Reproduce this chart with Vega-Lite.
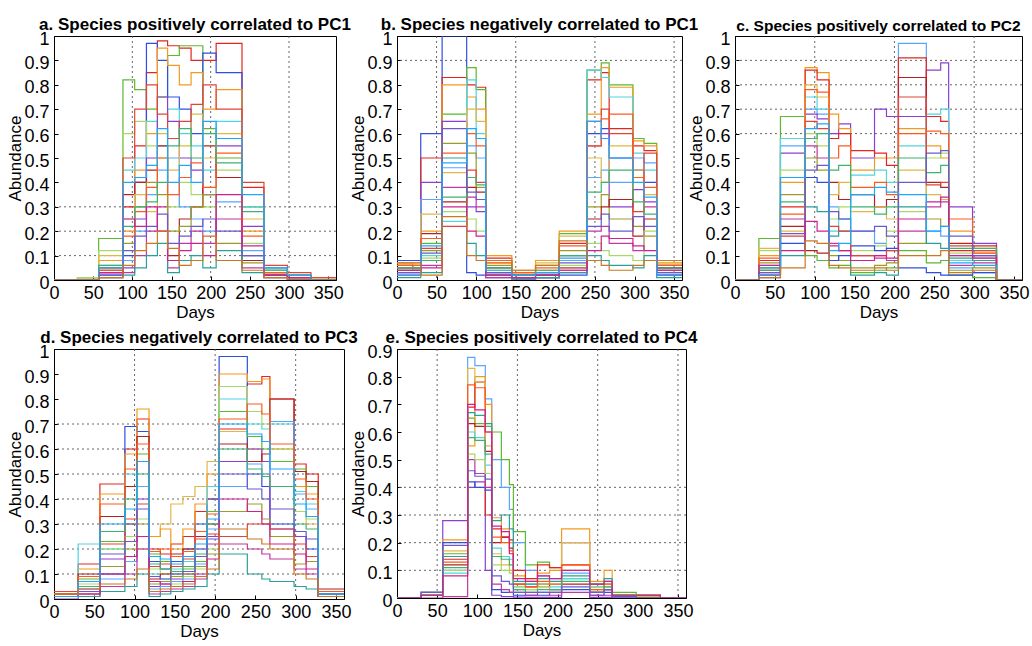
{
"$schema": "https://vega.github.io/schema/vega-lite/v6.json",
"background": "white",
"padding": {"left": 6, "top": 15, "right": 3, "bottom": 3},
"config": {
 "font": "Liberation Sans",
 "view": {"stroke": "black", "strokeWidth": 1},
 "axis": {"grid": false, "labelFontSize": 18, "labelColor": "black", "titleFontSize": 17, "titleFontWeight": "normal", "titleColor": "black", "domainColor": "black", "tickColor": "black", "tickSize": -4, "labelOverlap": false, "labelFlush": false},
 "axisX": {"labelPadding": 8, "titlePadding": 2},
 "axisY": {"labelPadding": 9, "titlePadding": -1, "labelOffset": 3},
 "title": {"fontSize": 17, "fontWeight": "bold", "color": "black", "offset": -4, "frame": "group"},
 "line": {"strokeWidth": 1.2}
},
"datasets": {
"a": [
{"s":1,"d":0,"v":0},{"s":1,"d":30,"v":0.01},{"s":1,"d":57,"v":0.05},{"s":1,"d":88,"v":0.3},{"s":1,"d":103,"v":0.55},{"s":1,"d":118,"v":0.85},{"s":1,"d":132,"v":0.98},{"s":1,"d":145,"v":0.96},{"s":1,"d":160,"v":0.95},{"s":1,"d":175,"v":0.9},{"s":1,"d":190,"v":0.9},{"s":1,"d":207,"v":0.97},{"s":1,"d":240,"v":0.38},{"s":1,"d":268,"v":0.05},{"s":1,"d":298,"v":0.02},{"s":1,"d":328,"v":0},{"s":1,"d":360,"v":0},
{"s":2,"d":0,"v":0},{"s":2,"d":30,"v":0.01},{"s":2,"d":57,"v":0.17},{"s":2,"d":88,"v":0.82},{"s":2,"d":103,"v":0.78},{"s":2,"d":118,"v":0.7},{"s":2,"d":132,"v":0.75},{"s":2,"d":145,"v":0.92},{"s":2,"d":160,"v":0.96},{"s":2,"d":175,"v":0.96},{"s":2,"d":190,"v":0.62},{"s":2,"d":207,"v":0.5},{"s":2,"d":240,"v":0.3},{"s":2,"d":268,"v":0.04},{"s":2,"d":298,"v":0.02},{"s":2,"d":328,"v":0.01},{"s":2,"d":360,"v":0.01},
{"s":3,"d":0,"v":0},{"s":3,"d":30,"v":0},{"s":3,"d":57,"v":0.03},{"s":3,"d":88,"v":0.1},{"s":3,"d":103,"v":0.4},{"s":3,"d":118,"v":0.97},{"s":3,"d":132,"v":0.9},{"s":3,"d":145,"v":0.75},{"s":3,"d":160,"v":0.7},{"s":3,"d":175,"v":0.6},{"s":3,"d":190,"v":0.93},{"s":3,"d":207,"v":0.85},{"s":3,"d":240,"v":0.1},{"s":3,"d":268,"v":0.02},{"s":3,"d":298,"v":0.01},{"s":3,"d":328,"v":0},{"s":3,"d":360,"v":0},
{"s":4,"d":0,"v":0},{"s":4,"d":30,"v":0},{"s":4,"d":57,"v":0.08},{"s":4,"d":88,"v":0.2},{"s":4,"d":103,"v":0.45},{"s":4,"d":118,"v":0.6},{"s":4,"d":132,"v":0.95},{"s":4,"d":145,"v":0.88},{"s":4,"d":160,"v":0.8},{"s":4,"d":175,"v":0.85},{"s":4,"d":190,"v":0.7},{"s":4,"d":207,"v":0.78},{"s":4,"d":240,"v":0.2},{"s":4,"d":268,"v":0.03},{"s":4,"d":298,"v":0.01},{"s":4,"d":328,"v":0},{"s":4,"d":360,"v":0},
{"s":5,"d":0,"v":0},{"s":5,"d":30,"v":0},{"s":5,"d":57,"v":0.06},{"s":5,"d":88,"v":0.45},{"s":5,"d":103,"v":0.5},{"s":5,"d":118,"v":0.65},{"s":5,"d":132,"v":0.55},{"s":5,"d":145,"v":0.7},{"s":5,"d":160,"v":0.6},{"s":5,"d":175,"v":0.55},{"s":5,"d":190,"v":0.45},{"s":5,"d":207,"v":0.65},{"s":5,"d":240,"v":0.3},{"s":5,"d":268,"v":0.05},{"s":5,"d":298,"v":0.01},{"s":5,"d":328,"v":0},{"s":5,"d":360,"v":0},
{"s":6,"d":0,"v":0},{"s":6,"d":30,"v":0},{"s":6,"d":57,"v":0.02},{"s":6,"d":88,"v":0.05},{"s":6,"d":103,"v":0.25},{"s":6,"d":118,"v":0.5},{"s":6,"d":132,"v":0.75},{"s":6,"d":145,"v":0.65},{"s":6,"d":160,"v":0.5},{"s":6,"d":175,"v":0.45},{"s":6,"d":190,"v":0.35},{"s":6,"d":207,"v":0.55},{"s":6,"d":240,"v":0.22},{"s":6,"d":268,"v":0.03},{"s":6,"d":298,"v":0.01},{"s":6,"d":328,"v":0},{"s":6,"d":360,"v":0},
{"s":7,"d":0,"v":0},{"s":7,"d":30,"v":0.01},{"s":7,"d":57,"v":0.12},{"s":7,"d":88,"v":0.6},{"s":7,"d":103,"v":0.65},{"s":7,"d":118,"v":0.55},{"s":7,"d":132,"v":0.5},{"s":7,"d":145,"v":0.3},{"s":7,"d":160,"v":0.4},{"s":7,"d":175,"v":0.35},{"s":7,"d":190,"v":0.3},{"s":7,"d":207,"v":0.45},{"s":7,"d":240,"v":0.15},{"s":7,"d":268,"v":0.03},{"s":7,"d":298,"v":0.02},{"s":7,"d":328,"v":0.01},{"s":7,"d":360,"v":0.01},
{"s":8,"d":0,"v":0},{"s":8,"d":30,"v":0},{"s":8,"d":57,"v":0.04},{"s":8,"d":88,"v":0.35},{"s":8,"d":103,"v":0.4},{"s":8,"d":118,"v":0.45},{"s":8,"d":132,"v":0.55},{"s":8,"d":145,"v":0.1},{"s":8,"d":160,"v":0.25},{"s":8,"d":175,"v":0.3},{"s":8,"d":190,"v":0.55},{"s":8,"d":207,"v":0.42},{"s":8,"d":240,"v":0.08},{"s":8,"d":268,"v":0.02},{"s":8,"d":298,"v":0},{"s":8,"d":328,"v":0},{"s":8,"d":360,"v":0},
{"s":9,"d":0,"v":0},{"s":9,"d":30,"v":0},{"s":9,"d":57,"v":0.02},{"s":9,"d":88,"v":0.08},{"s":9,"d":103,"v":0.2},{"s":9,"d":118,"v":0.35},{"s":9,"d":132,"v":0.45},{"s":9,"d":145,"v":0.5},{"s":9,"d":160,"v":0.3},{"s":9,"d":175,"v":0.25},{"s":9,"d":190,"v":0.2},{"s":9,"d":207,"v":0.32},{"s":9,"d":240,"v":0.12},{"s":9,"d":268,"v":0.04},{"s":9,"d":298,"v":0.01},{"s":9,"d":328,"v":0},{"s":9,"d":360,"v":0},
{"s":10,"d":0,"v":0},{"s":10,"d":30,"v":0},{"s":10,"d":57,"v":0.01},{"s":10,"d":88,"v":0.03},{"s":10,"d":103,"v":0.1},{"s":10,"d":118,"v":0.2},{"s":10,"d":132,"v":0.3},{"s":10,"d":145,"v":0.05},{"s":10,"d":160,"v":0.15},{"s":10,"d":175,"v":0.2},{"s":10,"d":190,"v":0.15},{"s":10,"d":207,"v":0.25},{"s":10,"d":240,"v":0.05},{"s":10,"d":268,"v":0.01},{"s":10,"d":298,"v":0},{"s":10,"d":328,"v":0},{"s":10,"d":360,"v":0},
{"s":11,"d":0,"v":0},{"s":11,"d":30,"v":0},{"s":11,"d":57,"v":0.05},{"s":11,"d":88,"v":0.15},{"s":11,"d":103,"v":0.3},{"s":11,"d":118,"v":0.4},{"s":11,"d":132,"v":0.35},{"s":11,"d":145,"v":0.2},{"s":11,"d":160,"v":0.22},{"s":11,"d":175,"v":0.3},{"s":11,"d":190,"v":0.35},{"s":11,"d":207,"v":0.15},{"s":11,"d":240,"v":0.07},{"s":11,"d":268,"v":0.02},{"s":11,"d":298,"v":0.01},{"s":11,"d":328,"v":0},{"s":11,"d":360,"v":0},
{"s":12,"d":0,"v":0},{"s":12,"d":30,"v":0},{"s":12,"d":57,"v":0.1},{"s":12,"d":88,"v":0.25},{"s":12,"d":103,"v":0.35},{"s":12,"d":118,"v":0.28},{"s":12,"d":132,"v":0.6},{"s":12,"d":145,"v":0.45},{"s":12,"d":160,"v":0.55},{"s":12,"d":175,"v":0.68},{"s":12,"d":190,"v":0.5},{"s":12,"d":207,"v":0.6},{"s":12,"d":240,"v":0.25},{"s":12,"d":268,"v":0.04},{"s":12,"d":298,"v":0.01},{"s":12,"d":328,"v":0},{"s":12,"d":360,"v":0},
{"s":13,"d":0,"v":0},{"s":13,"d":30,"v":0},{"s":13,"d":57,"v":0.01},{"s":13,"d":88,"v":0.02},{"s":13,"d":103,"v":0.05},{"s":13,"d":118,"v":0.1},{"s":13,"d":132,"v":0.15},{"s":13,"d":145,"v":0.03},{"s":13,"d":160,"v":0.08},{"s":13,"d":175,"v":0.1},{"s":13,"d":190,"v":0.05},{"s":13,"d":207,"v":0.12},{"s":13,"d":240,"v":0.03},{"s":13,"d":268,"v":0.01},{"s":13,"d":298,"v":0},{"s":13,"d":328,"v":0},{"s":13,"d":360,"v":0},
{"s":14,"d":0,"v":0},{"s":14,"d":30,"v":0},{"s":14,"d":57,"v":0.03},{"s":14,"d":88,"v":0.5},{"s":14,"d":103,"v":0.7},{"s":14,"d":118,"v":0.8},{"s":14,"d":132,"v":0.68},{"s":14,"d":145,"v":0.58},{"s":14,"d":160,"v":0.65},{"s":14,"d":175,"v":0.72},{"s":14,"d":190,"v":0.8},{"s":14,"d":207,"v":0.7},{"s":14,"d":240,"v":0.4},{"s":14,"d":268,"v":0.06},{"s":14,"d":298,"v":0.03},{"s":14,"d":328,"v":0.01},{"s":14,"d":360,"v":0.01},
{"s":15,"d":0,"v":0},{"s":15,"d":30,"v":0},{"s":15,"d":57,"v":0.04},{"s":15,"d":88,"v":0.18},{"s":15,"d":103,"v":0.28},{"s":15,"d":118,"v":0.38},{"s":15,"d":132,"v":0.5},{"s":15,"d":145,"v":0.35},{"s":15,"d":160,"v":0.42},{"s":15,"d":175,"v":0.48},{"s":15,"d":190,"v":0.38},{"s":15,"d":207,"v":0.52},{"s":15,"d":240,"v":0.18},{"s":15,"d":268,"v":0.03},{"s":15,"d":298,"v":0.01},{"s":15,"d":328,"v":0},{"s":15,"d":360,"v":0},
{"s":16,"d":0,"v":0},{"s":16,"d":30,"v":0},{"s":16,"d":57,"v":0.06},{"s":16,"d":88,"v":0.22},{"s":16,"d":103,"v":0.3},{"s":16,"d":118,"v":0.32},{"s":16,"d":132,"v":0.4},{"s":16,"d":145,"v":0.55},{"s":16,"d":160,"v":0.62},{"s":16,"d":175,"v":0.5},{"s":16,"d":190,"v":0.6},{"s":16,"d":207,"v":0.48},{"s":16,"d":240,"v":0.28},{"s":16,"d":268,"v":0.04},{"s":16,"d":298,"v":0.02},{"s":16,"d":328,"v":0},{"s":16,"d":360,"v":0},
{"s":17,"d":0,"v":0},{"s":17,"d":30,"v":0},{"s":17,"d":57,"v":0.02},{"s":17,"d":88,"v":0.12},{"s":17,"d":103,"v":0.18},{"s":17,"d":118,"v":0.22},{"s":17,"d":132,"v":0.27},{"s":17,"d":145,"v":0.15},{"s":17,"d":160,"v":0.18},{"s":17,"d":175,"v":0.22},{"s":17,"d":190,"v":0.25},{"s":17,"d":207,"v":0.2},{"s":17,"d":240,"v":0.1},{"s":17,"d":268,"v":0.02},{"s":17,"d":298,"v":0},{"s":17,"d":328,"v":0},{"s":17,"d":360,"v":0},
{"s":18,"d":0,"v":0},{"s":18,"d":30,"v":0},{"s":18,"d":57,"v":0.03},{"s":18,"d":88,"v":0.25},{"s":18,"d":103,"v":0.22},{"s":18,"d":118,"v":0.3},{"s":18,"d":132,"v":0.2},{"s":18,"d":145,"v":0.08},{"s":18,"d":160,"v":0.12},{"s":18,"d":175,"v":0.15},{"s":18,"d":190,"v":0.1},{"s":18,"d":207,"v":0.35},{"s":18,"d":240,"v":0.14},{"s":18,"d":268,"v":0.02},{"s":18,"d":298,"v":0.01},{"s":18,"d":328,"v":0},{"s":18,"d":360,"v":0},
{"s":19,"d":0,"v":0},{"s":19,"d":30,"v":0},{"s":19,"d":57,"v":0.05},{"s":19,"d":88,"v":0.4},{"s":19,"d":103,"v":0.42},{"s":19,"d":118,"v":0.47},{"s":19,"d":132,"v":0.62},{"s":19,"d":145,"v":0.4},{"s":19,"d":160,"v":0.47},{"s":19,"d":175,"v":0.4},{"s":19,"d":190,"v":0.65},{"s":19,"d":207,"v":0.58},{"s":19,"d":240,"v":0.35},{"s":19,"d":268,"v":0.05},{"s":19,"d":298,"v":0.02},{"s":19,"d":328,"v":0},{"s":19,"d":360,"v":0},
{"s":20,"d":0,"v":0},{"s":20,"d":30,"v":0},{"s":20,"d":57,"v":0.01},{"s":20,"d":88,"v":0.06},{"s":20,"d":103,"v":0.12},{"s":20,"d":118,"v":0.15},{"s":20,"d":132,"v":0.2},{"s":20,"d":145,"v":0.13},{"s":20,"d":160,"v":0.06},{"s":20,"d":175,"v":0.08},{"s":20,"d":190,"v":0.18},{"s":20,"d":207,"v":0.08},{"s":20,"d":240,"v":0.04},{"s":20,"d":268,"v":0.01},{"s":20,"d":298,"v":0},{"s":20,"d":328,"v":0},{"s":20,"d":360,"v":0}
],
"b": [
{"s":3,"d":0,"v":0.08},{"s":3,"d":20,"v":0.08},{"s":3,"d":30,"v":0.6},{"s":3,"d":57,"v":1.0},{"s":3,"d":88,"v":0.03},{"s":3,"d":100,"v":0.02},{"s":3,"d":112,"v":0.01},{"s":3,"d":145,"v":0.005},{"s":3,"d":175,"v":0.01},{"s":3,"d":205,"v":0.02},{"s":3,"d":240,"v":0.6},{"s":3,"d":258,"v":0.62},{"s":3,"d":268,"v":0.5},{"s":3,"d":298,"v":0.45},{"s":3,"d":312,"v":0.4},{"s":3,"d":328,"v":0.05},{"s":3,"d":360,"v":0.05},
{"s":1,"d":0,"v":0.06},{"s":1,"d":20,"v":0.05},{"s":1,"d":30,"v":0.5},{"s":1,"d":57,"v":0.83},{"s":1,"d":88,"v":0.8},{"s":1,"d":100,"v":0.79},{"s":1,"d":112,"v":0.09},{"s":1,"d":145,"v":0.03},{"s":1,"d":175,"v":0.03},{"s":1,"d":205,"v":0.15},{"s":1,"d":240,"v":0.82},{"s":1,"d":258,"v":0.85},{"s":1,"d":268,"v":0.62},{"s":1,"d":298,"v":0.55},{"s":1,"d":312,"v":0.53},{"s":1,"d":328,"v":0.06},{"s":1,"d":360,"v":0.06},
{"s":2,"d":0,"v":0.05},{"s":2,"d":20,"v":0.05},{"s":2,"d":30,"v":0.15},{"s":2,"d":57,"v":0.68},{"s":2,"d":88,"v":0.87},{"s":2,"d":100,"v":0.78},{"s":2,"d":112,"v":0.08},{"s":2,"d":145,"v":0.02},{"s":2,"d":175,"v":0.06},{"s":2,"d":205,"v":0.19},{"s":2,"d":240,"v":0.86},{"s":2,"d":258,"v":0.89},{"s":2,"d":268,"v":0.8},{"s":2,"d":298,"v":0.58},{"s":2,"d":312,"v":0.56},{"s":2,"d":328,"v":0.08},{"s":2,"d":360,"v":0.08},
{"s":4,"d":0,"v":0.07},{"s":4,"d":20,"v":0.06},{"s":4,"d":30,"v":0.2},{"s":4,"d":57,"v":0.8},{"s":4,"d":88,"v":0.75},{"s":4,"d":100,"v":0.7},{"s":4,"d":112,"v":0.1},{"s":4,"d":145,"v":0.04},{"s":4,"d":175,"v":0.08},{"s":4,"d":205,"v":0.2},{"s":4,"d":240,"v":0.68},{"s":4,"d":258,"v":0.87},{"s":4,"d":268,"v":0.79},{"s":4,"d":298,"v":0.57},{"s":4,"d":312,"v":0.55},{"s":4,"d":328,"v":0.07},{"s":4,"d":360,"v":0.07},
{"s":5,"d":0,"v":0.04},{"s":5,"d":20,"v":0.04},{"s":5,"d":30,"v":0.1},{"s":5,"d":57,"v":0.24},{"s":5,"d":88,"v":0.82},{"s":5,"d":100,"v":0.6},{"s":5,"d":112,"v":0.02},{"s":5,"d":145,"v":0.01},{"s":5,"d":175,"v":0.02},{"s":5,"d":205,"v":0.05},{"s":5,"d":240,"v":0.86},{"s":5,"d":258,"v":0.83},{"s":5,"d":268,"v":0.75},{"s":5,"d":298,"v":0.52},{"s":5,"d":312,"v":0.45},{"s":5,"d":328,"v":0.03},{"s":5,"d":360,"v":0.03},
{"s":6,"d":0,"v":0.03},{"s":6,"d":20,"v":0.03},{"s":6,"d":30,"v":0.4},{"s":6,"d":57,"v":0.65},{"s":6,"d":88,"v":0.3},{"s":6,"d":100,"v":0.28},{"s":6,"d":112,"v":0.02},{"s":6,"d":145,"v":0.01},{"s":6,"d":175,"v":0.01},{"s":6,"d":205,"v":0.03},{"s":6,"d":240,"v":0.55},{"s":6,"d":258,"v":0.6},{"s":6,"d":268,"v":0.3},{"s":6,"d":298,"v":0.37},{"s":6,"d":312,"v":0.32},{"s":6,"d":328,"v":0.02},{"s":6,"d":360,"v":0.02},
{"s":9,"d":0,"v":0.05},{"s":9,"d":20,"v":0.04},{"s":9,"d":30,"v":0.33},{"s":9,"d":57,"v":0.46},{"s":9,"d":88,"v":0.55},{"s":9,"d":100,"v":0.5},{"s":9,"d":112,"v":0.03},{"s":9,"d":145,"v":0.02},{"s":9,"d":175,"v":0.03},{"s":9,"d":205,"v":0.08},{"s":9,"d":240,"v":0.42},{"s":9,"d":258,"v":0.45},{"s":9,"d":268,"v":0.4},{"s":9,"d":298,"v":0.5},{"s":9,"d":312,"v":0.48},{"s":9,"d":328,"v":0.04},{"s":9,"d":360,"v":0.04},
{"s":11,"d":0,"v":0.06},{"s":11,"d":20,"v":0.06},{"s":11,"d":30,"v":0.12},{"s":11,"d":57,"v":0.56},{"s":11,"d":88,"v":0.52},{"s":11,"d":100,"v":0.38},{"s":11,"d":112,"v":0.06},{"s":11,"d":145,"v":0.02},{"s":11,"d":175,"v":0.04},{"s":11,"d":205,"v":0.12},{"s":11,"d":240,"v":0.3},{"s":11,"d":258,"v":0.35},{"s":11,"d":268,"v":0.25},{"s":11,"d":298,"v":0.22},{"s":11,"d":312,"v":0.18},{"s":11,"d":328,"v":0.06},{"s":11,"d":360,"v":0.06},
{"s":8,"d":0,"v":0.04},{"s":8,"d":20,"v":0.04},{"s":8,"d":30,"v":0.19},{"s":8,"d":57,"v":0.32},{"s":8,"d":88,"v":0.38},{"s":8,"d":100,"v":0.36},{"s":8,"d":112,"v":0.05},{"s":8,"d":145,"v":0.02},{"s":8,"d":175,"v":0.02},{"s":8,"d":205,"v":0.1},{"s":8,"d":240,"v":0.25},{"s":8,"d":258,"v":0.3},{"s":8,"d":268,"v":0.33},{"s":8,"d":298,"v":0.18},{"s":8,"d":312,"v":0.25},{"s":8,"d":328,"v":0.05},{"s":8,"d":360,"v":0.05},
{"s":12,"d":0,"v":0.07},{"s":12,"d":20,"v":0.07},{"s":12,"d":30,"v":0.27},{"s":12,"d":57,"v":0.44},{"s":12,"d":88,"v":0.7},{"s":12,"d":100,"v":0.65},{"s":12,"d":112,"v":0.07},{"s":12,"d":145,"v":0.03},{"s":12,"d":175,"v":0.07},{"s":12,"d":205,"v":0.18},{"s":12,"d":240,"v":0.5},{"s":12,"d":258,"v":0.4},{"s":12,"d":268,"v":0.55},{"s":12,"d":298,"v":0.45},{"s":12,"d":312,"v":0.35},{"s":12,"d":328,"v":0.07},{"s":12,"d":360,"v":0.07},
{"s":10,"d":0,"v":0.02},{"s":10,"d":20,"v":0.02},{"s":10,"d":30,"v":0.06},{"s":10,"d":57,"v":0.38},{"s":10,"d":88,"v":0.34},{"s":10,"d":100,"v":0.3},{"s":10,"d":112,"v":0.01},{"s":10,"d":145,"v":0.005},{"s":10,"d":175,"v":0.01},{"s":10,"d":205,"v":0.04},{"s":10,"d":240,"v":0.2},{"s":10,"d":258,"v":0.22},{"s":10,"d":268,"v":0.15},{"s":10,"d":298,"v":0.12},{"s":10,"d":312,"v":0.3},{"s":10,"d":328,"v":0.02},{"s":10,"d":360,"v":0.02},
{"s":7,"d":0,"v":0.03},{"s":7,"d":20,"v":0.03},{"s":7,"d":30,"v":0.09},{"s":7,"d":57,"v":0.28},{"s":7,"d":88,"v":0.25},{"s":7,"d":100,"v":0.2},{"s":7,"d":112,"v":0.04},{"s":7,"d":145,"v":0.01},{"s":7,"d":175,"v":0.02},{"s":7,"d":205,"v":0.06},{"s":7,"d":240,"v":0.15},{"s":7,"d":258,"v":0.12},{"s":7,"d":268,"v":0.1},{"s":7,"d":298,"v":0.08},{"s":7,"d":312,"v":0.2},{"s":7,"d":328,"v":0.03},{"s":7,"d":360,"v":0.03},
{"s":13,"d":0,"v":0.01},{"s":13,"d":20,"v":0.01},{"s":13,"d":30,"v":0.03},{"s":13,"d":57,"v":0.5},{"s":13,"d":88,"v":0.15},{"s":13,"d":100,"v":0.1},{"s":13,"d":112,"v":0.02},{"s":13,"d":145,"v":0.005},{"s":13,"d":175,"v":0.01},{"s":13,"d":205,"v":0.03},{"s":13,"d":240,"v":0.1},{"s":13,"d":258,"v":0.08},{"s":13,"d":268,"v":0.06},{"s":13,"d":298,"v":0.05},{"s":13,"d":312,"v":0.1},{"s":13,"d":328,"v":0.01},{"s":13,"d":360,"v":0.01},
{"s":14,"d":0,"v":0.05},{"s":14,"d":20,"v":0.05},{"s":14,"d":30,"v":0.13},{"s":14,"d":57,"v":0.22},{"s":14,"d":88,"v":0.45},{"s":14,"d":100,"v":0.4},{"s":14,"d":112,"v":0.03},{"s":14,"d":145,"v":0.02},{"s":14,"d":175,"v":0.02},{"s":14,"d":205,"v":0.05},{"s":14,"d":240,"v":0.65},{"s":14,"d":258,"v":0.7},{"s":14,"d":268,"v":0.6},{"s":14,"d":298,"v":0.28},{"s":14,"d":312,"v":0.52},{"s":14,"d":328,"v":0.04},{"s":14,"d":360,"v":0.04},
{"s":15,"d":0,"v":0.06},{"s":15,"d":20,"v":0.06},{"s":15,"d":30,"v":0.17},{"s":15,"d":57,"v":0.52},{"s":15,"d":88,"v":0.6},{"s":15,"d":100,"v":0.55},{"s":15,"d":112,"v":0.07},{"s":15,"d":145,"v":0.03},{"s":15,"d":175,"v":0.05},{"s":15,"d":205,"v":0.14},{"s":15,"d":240,"v":0.55},{"s":15,"d":258,"v":0.66},{"s":15,"d":268,"v":0.68},{"s":15,"d":298,"v":0.42},{"s":15,"d":312,"v":0.38},{"s":15,"d":328,"v":0.06},{"s":15,"d":360,"v":0.06},
{"s":16,"d":0,"v":0.05},{"s":16,"d":20,"v":0.05},{"s":16,"d":30,"v":0.08},{"s":16,"d":57,"v":0.34},{"s":16,"d":88,"v":0.42},{"s":16,"d":100,"v":0.39},{"s":16,"d":112,"v":0.05},{"s":16,"d":145,"v":0.02},{"s":16,"d":175,"v":0.04},{"s":16,"d":205,"v":0.1},{"s":16,"d":240,"v":0.36},{"s":16,"d":258,"v":0.4},{"s":16,"d":268,"v":0.45},{"s":16,"d":298,"v":0.32},{"s":16,"d":312,"v":0.27},{"s":16,"d":328,"v":0.05},{"s":16,"d":360,"v":0.05},
{"s":17,"d":0,"v":0.03},{"s":17,"d":20,"v":0.03},{"s":17,"d":30,"v":0.11},{"s":17,"d":57,"v":0.62},{"s":17,"d":88,"v":0.36},{"s":17,"d":100,"v":0.33},{"s":17,"d":112,"v":0.03},{"s":17,"d":145,"v":0.01},{"s":17,"d":175,"v":0.02},{"s":17,"d":205,"v":0.07},{"s":17,"d":240,"v":0.22},{"s":17,"d":258,"v":0.27},{"s":17,"d":268,"v":0.2},{"s":17,"d":298,"v":0.26},{"s":17,"d":312,"v":0.22},{"s":17,"d":328,"v":0.03},{"s":17,"d":360,"v":0.03},
{"s":18,"d":0,"v":0.04},{"s":18,"d":20,"v":0.04},{"s":18,"d":30,"v":0.05},{"s":18,"d":57,"v":0.3},{"s":18,"d":88,"v":0.2},{"s":18,"d":100,"v":0.18},{"s":18,"d":112,"v":0.02},{"s":18,"d":145,"v":0.01},{"s":18,"d":175,"v":0.02},{"s":18,"d":205,"v":0.04},{"s":18,"d":240,"v":0.12},{"s":18,"d":258,"v":0.18},{"s":18,"d":268,"v":0.17},{"s":18,"d":298,"v":0.14},{"s":18,"d":312,"v":0.12},{"s":18,"d":328,"v":0.04},{"s":18,"d":360,"v":0.04},
{"s":19,"d":0,"v":0.02},{"s":19,"d":20,"v":0.02},{"s":19,"d":30,"v":0.14},{"s":19,"d":57,"v":0.48},{"s":19,"d":88,"v":0.62},{"s":19,"d":100,"v":0.58},{"s":19,"d":112,"v":0.04},{"s":19,"d":145,"v":0.02},{"s":19,"d":175,"v":0.03},{"s":19,"d":205,"v":0.09},{"s":19,"d":240,"v":0.65},{"s":19,"d":258,"v":0.58},{"s":19,"d":268,"v":0.5},{"s":19,"d":298,"v":0.4},{"s":19,"d":312,"v":0.34},{"s":19,"d":328,"v":0.02},{"s":19,"d":360,"v":0.02},
{"s":20,"d":0,"v":0.07},{"s":20,"d":20,"v":0.07},{"s":20,"d":30,"v":0.02},{"s":20,"d":57,"v":0.26},{"s":20,"d":88,"v":0.1},{"s":20,"d":100,"v":0.08},{"s":20,"d":112,"v":0.08},{"s":20,"d":145,"v":0.04},{"s":20,"d":175,"v":0.06},{"s":20,"d":205,"v":0.16},{"s":20,"d":240,"v":0.08},{"s":20,"d":258,"v":0.06},{"s":20,"d":268,"v":0.04},{"s":20,"d":298,"v":0.06},{"s":20,"d":312,"v":0.08},{"s":20,"d":328,"v":0.08},{"s":20,"d":360,"v":0.08}
],
"c": [
{"s":9,"d":0,"v":0},{"s":9,"d":30,"v":0.05},{"s":9,"d":57,"v":0.55},{"s":9,"d":88,"v":0.7},{"s":9,"d":103,"v":0.68},{"s":9,"d":118,"v":0.3},{"s":9,"d":130,"v":0.25},{"s":9,"d":145,"v":0.2},{"s":9,"d":175,"v":0.15},{"s":9,"d":190,"v":0.12},{"s":9,"d":205,"v":0.97},{"s":9,"d":240,"v":0.2},{"s":9,"d":258,"v":0.18},{"s":9,"d":268,"v":0.05},{"s":9,"d":298,"v":0.03},{"s":9,"d":328,"v":0},{"s":9,"d":360,"v":0},
{"s":6,"d":0,"v":0},{"s":6,"d":30,"v":0.02},{"s":6,"d":57,"v":0.52},{"s":6,"d":88,"v":0.68},{"s":6,"d":103,"v":0.66},{"s":6,"d":118,"v":0.6},{"s":6,"d":130,"v":0.64},{"s":6,"d":145,"v":0.5},{"s":6,"d":175,"v":0.7},{"s":6,"d":190,"v":0.67},{"s":6,"d":205,"v":0.67},{"s":6,"d":240,"v":0.86},{"s":6,"d":258,"v":0.89},{"s":6,"d":268,"v":0.3},{"s":6,"d":298,"v":0.15},{"s":6,"d":328,"v":0},{"s":6,"d":360,"v":0},
{"s":2,"d":0,"v":0},{"s":2,"d":30,"v":0.17},{"s":2,"d":57,"v":0.67},{"s":2,"d":88,"v":0.1},{"s":2,"d":103,"v":0.08},{"s":2,"d":118,"v":0.05},{"s":2,"d":130,"v":0.06},{"s":2,"d":145,"v":0.03},{"s":2,"d":175,"v":0.04},{"s":2,"d":190,"v":0.05},{"s":2,"d":205,"v":0.12},{"s":2,"d":240,"v":0.07},{"s":2,"d":258,"v":0.08},{"s":2,"d":268,"v":0.02},{"s":2,"d":298,"v":0.01},{"s":2,"d":328,"v":0},{"s":2,"d":360,"v":0},
{"s":4,"d":0,"v":0},{"s":4,"d":30,"v":0.1},{"s":4,"d":57,"v":0.4},{"s":4,"d":88,"v":0.87},{"s":4,"d":103,"v":0.85},{"s":4,"d":118,"v":0.68},{"s":4,"d":130,"v":0.62},{"s":4,"d":145,"v":0.45},{"s":4,"d":175,"v":0.5},{"s":4,"d":190,"v":0.5},{"s":4,"d":205,"v":0.62},{"s":4,"d":240,"v":0.55},{"s":4,"d":258,"v":0.5},{"s":4,"d":268,"v":0.2},{"s":4,"d":298,"v":0.12},{"s":4,"d":328,"v":0},{"s":4,"d":360,"v":0},
{"s":1,"d":0,"v":0},{"s":1,"d":30,"v":0.08},{"s":1,"d":57,"v":0.3},{"s":1,"d":88,"v":0.86},{"s":1,"d":103,"v":0.82},{"s":1,"d":118,"v":0.58},{"s":1,"d":130,"v":0.6},{"s":1,"d":145,"v":0.53},{"s":1,"d":175,"v":0.52},{"s":1,"d":190,"v":0.47},{"s":1,"d":205,"v":0.91},{"s":1,"d":240,"v":0.67},{"s":1,"d":258,"v":0.65},{"s":1,"d":268,"v":0.12},{"s":1,"d":298,"v":0.14},{"s":1,"d":328,"v":0},{"s":1,"d":360,"v":0},
{"s":8,"d":0,"v":0},{"s":8,"d":30,"v":0.04},{"s":8,"d":57,"v":0.22},{"s":8,"d":88,"v":0.12},{"s":8,"d":103,"v":0.11},{"s":8,"d":118,"v":0.4},{"s":8,"d":130,"v":0.33},{"s":8,"d":145,"v":0.35},{"s":8,"d":175,"v":0.3},{"s":8,"d":190,"v":0.33},{"s":8,"d":205,"v":0.83},{"s":8,"d":240,"v":0.4},{"s":8,"d":258,"v":0.38},{"s":8,"d":268,"v":0.15},{"s":8,"d":298,"v":0.1},{"s":8,"d":328,"v":0},{"s":8,"d":360,"v":0},
{"s":5,"d":0,"v":0},{"s":5,"d":30,"v":0.06},{"s":5,"d":57,"v":0.58},{"s":5,"d":88,"v":0.75},{"s":5,"d":103,"v":0.7},{"s":5,"d":118,"v":0.2},{"s":5,"d":130,"v":0.25},{"s":5,"d":145,"v":0.43},{"s":5,"d":175,"v":0.45},{"s":5,"d":190,"v":0.4},{"s":5,"d":205,"v":0.55},{"s":5,"d":240,"v":0.68},{"s":5,"d":258,"v":0.7},{"s":5,"d":268,"v":0.08},{"s":5,"d":298,"v":0.09},{"s":5,"d":328,"v":0},{"s":5,"d":360,"v":0},
{"s":7,"d":0,"v":0},{"s":7,"d":30,"v":0.12},{"s":7,"d":57,"v":0.45},{"s":7,"d":88,"v":0.6},{"s":7,"d":103,"v":0.55},{"s":7,"d":118,"v":0.25},{"s":7,"d":130,"v":0.3},{"s":7,"d":145,"v":0.12},{"s":7,"d":175,"v":0.14},{"s":7,"d":190,"v":0.2},{"s":7,"d":205,"v":0.28},{"s":7,"d":240,"v":0.5},{"s":7,"d":258,"v":0.52},{"s":7,"d":268,"v":0.11},{"s":7,"d":298,"v":0.13},{"s":7,"d":328,"v":0},{"s":7,"d":360,"v":0},
{"s":10,"d":0,"v":0},{"s":10,"d":30,"v":0.03},{"s":10,"d":57,"v":0.25},{"s":10,"d":88,"v":0.55},{"s":10,"d":103,"v":0.5},{"s":10,"d":118,"v":0.15},{"s":10,"d":130,"v":0.12},{"s":10,"d":145,"v":0.1},{"s":10,"d":175,"v":0.09},{"s":10,"d":190,"v":0.08},{"s":10,"d":205,"v":0.2},{"s":10,"d":240,"v":0.3},{"s":10,"d":258,"v":0.32},{"s":10,"d":268,"v":0.06},{"s":10,"d":298,"v":0.07},{"s":10,"d":328,"v":0},{"s":10,"d":360,"v":0},
{"s":11,"d":0,"v":0},{"s":11,"d":30,"v":0.07},{"s":11,"d":57,"v":0.35},{"s":11,"d":88,"v":0.5},{"s":11,"d":103,"v":0.45},{"s":11,"d":118,"v":0.1},{"s":11,"d":130,"v":0.08},{"s":11,"d":145,"v":0.05},{"s":11,"d":175,"v":0.06},{"s":11,"d":190,"v":0.07},{"s":11,"d":205,"v":0.15},{"s":11,"d":240,"v":0.25},{"s":11,"d":258,"v":0.22},{"s":11,"d":268,"v":0.04},{"s":11,"d":298,"v":0.05},{"s":11,"d":328,"v":0},{"s":11,"d":360,"v":0},
{"s":12,"d":0,"v":0},{"s":12,"d":30,"v":0.13},{"s":12,"d":57,"v":0.2},{"s":12,"d":88,"v":0.8},{"s":12,"d":103,"v":0.75},{"s":12,"d":118,"v":0.35},{"s":12,"d":130,"v":0.4},{"s":12,"d":145,"v":0.28},{"s":12,"d":175,"v":0.3},{"s":12,"d":190,"v":0.25},{"s":12,"d":205,"v":0.45},{"s":12,"d":240,"v":0.35},{"s":12,"d":258,"v":0.33},{"s":12,"d":268,"v":0.1},{"s":12,"d":298,"v":0.11},{"s":12,"d":328,"v":0},{"s":12,"d":360,"v":0},
{"s":3,"d":0,"v":0},{"s":3,"d":30,"v":0.01},{"s":3,"d":57,"v":0.15},{"s":3,"d":88,"v":0.42},{"s":3,"d":103,"v":0.4},{"s":3,"d":118,"v":0.08},{"s":3,"d":130,"v":0.1},{"s":3,"d":145,"v":0.14},{"s":3,"d":175,"v":0.12},{"s":3,"d":190,"v":0.13},{"s":3,"d":205,"v":0.05},{"s":3,"d":240,"v":0.03},{"s":3,"d":258,"v":0.02},{"s":3,"d":268,"v":0.02},{"s":3,"d":298,"v":0.03},{"s":3,"d":328,"v":0},{"s":3,"d":360,"v":0},
{"s":13,"d":0,"v":0},{"s":13,"d":30,"v":0.05},{"s":13,"d":57,"v":0.1},{"s":13,"d":88,"v":0.3},{"s":13,"d":103,"v":0.28},{"s":13,"d":118,"v":0.18},{"s":13,"d":130,"v":0.2},{"s":13,"d":145,"v":0.02},{"s":13,"d":175,"v":0.03},{"s":13,"d":190,"v":0.02},{"s":13,"d":205,"v":0.3},{"s":13,"d":240,"v":0.15},{"s":13,"d":258,"v":0.13},{"s":13,"d":268,"v":0.09},{"s":13,"d":298,"v":0.08},{"s":13,"d":328,"v":0},{"s":13,"d":360,"v":0},
{"s":14,"d":0,"v":0},{"s":14,"d":30,"v":0.02},{"s":14,"d":57,"v":0.18},{"s":14,"d":88,"v":0.65},{"s":14,"d":103,"v":0.62},{"s":14,"d":118,"v":0.22},{"s":14,"d":130,"v":0.2},{"s":14,"d":145,"v":0.1},{"s":14,"d":175,"v":0.1},{"s":14,"d":190,"v":0.12},{"s":14,"d":205,"v":0.75},{"s":14,"d":240,"v":0.39},{"s":14,"d":258,"v":0.4},{"s":14,"d":268,"v":0.14},{"s":14,"d":298,"v":0.12},{"s":14,"d":328,"v":0},{"s":14,"d":360,"v":0},
{"s":15,"d":0,"v":0},{"s":15,"d":30,"v":0.09},{"s":15,"d":57,"v":0.27},{"s":15,"d":88,"v":0.78},{"s":15,"d":103,"v":0.77},{"s":15,"d":118,"v":0.5},{"s":15,"d":130,"v":0.55},{"s":15,"d":145,"v":0.38},{"s":15,"d":175,"v":0.4},{"s":15,"d":190,"v":0.35},{"s":15,"d":205,"v":0.6},{"s":15,"d":240,"v":0.61},{"s":15,"d":258,"v":0.6},{"s":15,"d":268,"v":0.25},{"s":15,"d":298,"v":0.11},{"s":15,"d":328,"v":0},{"s":15,"d":360,"v":0},
{"s":16,"d":0,"v":0},{"s":16,"d":30,"v":0.04},{"s":16,"d":57,"v":0.32},{"s":16,"d":88,"v":0.58},{"s":16,"d":103,"v":0.6},{"s":16,"d":118,"v":0.45},{"s":16,"d":130,"v":0.47},{"s":16,"d":145,"v":0.3},{"s":16,"d":175,"v":0.27},{"s":16,"d":190,"v":0.3},{"s":16,"d":205,"v":0.5},{"s":16,"d":240,"v":0.44},{"s":16,"d":258,"v":0.47},{"s":16,"d":268,"v":0.13},{"s":16,"d":298,"v":0.13},{"s":16,"d":328,"v":0},{"s":16,"d":360,"v":0},
{"s":17,"d":0,"v":0},{"s":17,"d":30,"v":0.03},{"s":17,"d":57,"v":0.19},{"s":17,"d":88,"v":0.45},{"s":17,"d":103,"v":0.47},{"s":17,"d":118,"v":0.28},{"s":17,"d":130,"v":0.25},{"s":17,"d":145,"v":0.2},{"s":17,"d":175,"v":0.22},{"s":17,"d":190,"v":0.18},{"s":17,"d":205,"v":0.4},{"s":17,"d":240,"v":0.52},{"s":17,"d":258,"v":0.53},{"s":17,"d":268,"v":0.18},{"s":17,"d":298,"v":0.1},{"s":17,"d":328,"v":0},{"s":17,"d":360,"v":0},
{"s":18,"d":0,"v":0},{"s":18,"d":30,"v":0.06},{"s":18,"d":57,"v":0.12},{"s":18,"d":88,"v":0.24},{"s":18,"d":103,"v":0.2},{"s":18,"d":118,"v":0.14},{"s":18,"d":130,"v":0.12},{"s":18,"d":145,"v":0.08},{"s":18,"d":175,"v":0.1},{"s":18,"d":190,"v":0.09},{"s":18,"d":205,"v":0.25},{"s":18,"d":240,"v":0.32},{"s":18,"d":258,"v":0.34},{"s":18,"d":268,"v":0.1},{"s":18,"d":298,"v":0.09},{"s":18,"d":328,"v":0},{"s":18,"d":360,"v":0},
{"s":19,"d":0,"v":0},{"s":19,"d":30,"v":0.02},{"s":19,"d":57,"v":0.42},{"s":19,"d":88,"v":0.62},{"s":19,"d":103,"v":0.64},{"s":19,"d":118,"v":0.12},{"s":19,"d":130,"v":0.15},{"s":19,"d":145,"v":0.35},{"s":19,"d":175,"v":0.38},{"s":19,"d":190,"v":0.36},{"s":19,"d":205,"v":0.35},{"s":19,"d":240,"v":0.2},{"s":19,"d":258,"v":0.22},{"s":19,"d":268,"v":0.07},{"s":19,"d":298,"v":0.06},{"s":19,"d":328,"v":0},{"s":19,"d":360,"v":0},
{"s":20,"d":0,"v":0},{"s":20,"d":30,"v":0.01},{"s":20,"d":57,"v":0.05},{"s":20,"d":88,"v":0.16},{"s":20,"d":103,"v":0.15},{"s":20,"d":118,"v":0.06},{"s":20,"d":130,"v":0.05},{"s":20,"d":145,"v":0.04},{"s":20,"d":175,"v":0.05},{"s":20,"d":190,"v":0.04},{"s":20,"d":205,"v":0.1},{"s":20,"d":240,"v":0.1},{"s":20,"d":258,"v":0.12},{"s":20,"d":268,"v":0.03},{"s":20,"d":298,"v":0.04},{"s":20,"d":328,"v":0},{"s":20,"d":360,"v":0}
],
"d": [
{"s":12,"d":0,"v":0.02},{"s":12,"d":30,"v":0.05},{"s":12,"d":57,"v":0.1},{"s":12,"d":88,"v":0.15},{"s":12,"d":103,"v":0.2},{"s":12,"d":118,"v":0.25},{"s":12,"d":132,"v":0.3},{"s":12,"d":145,"v":0.38},{"s":12,"d":160,"v":0.41},{"s":12,"d":175,"v":0.45},{"s":12,"d":190,"v":0.55},{"s":12,"d":205,"v":0.67},{"s":12,"d":240,"v":0.6},{"s":12,"d":258,"v":0.5},{"s":12,"d":268,"v":0.45},{"s":12,"d":298,"v":0.35},{"s":12,"d":313,"v":0.3},{"s":12,"d":328,"v":0.03},{"s":12,"d":360,"v":0.03},
{"s":1,"d":0,"v":0.02},{"s":1,"d":30,"v":0.14},{"s":1,"d":57,"v":0.46},{"s":1,"d":88,"v":0.6},{"s":1,"d":103,"v":0.72},{"s":1,"d":118,"v":0.2},{"s":1,"d":132,"v":0.18},{"s":1,"d":145,"v":0.22},{"s":1,"d":160,"v":0.25},{"s":1,"d":175,"v":0.35},{"s":1,"d":190,"v":0.4},{"s":1,"d":205,"v":0.68},{"s":1,"d":240,"v":0.86},{"s":1,"d":258,"v":0.89},{"s":1,"d":268,"v":0.8},{"s":1,"d":298,"v":0.54},{"s":1,"d":313,"v":0.5},{"s":1,"d":328,"v":0.03},{"s":1,"d":360,"v":0.03},
{"s":3,"d":0,"v":0.01},{"s":3,"d":30,"v":0.03},{"s":3,"d":57,"v":0.1},{"s":3,"d":88,"v":0.69},{"s":3,"d":103,"v":0.67},{"s":3,"d":118,"v":0.15},{"s":3,"d":132,"v":0.12},{"s":3,"d":145,"v":0.15},{"s":3,"d":160,"v":0.2},{"s":3,"d":175,"v":0.3},{"s":3,"d":190,"v":0.4},{"s":3,"d":205,"v":0.97},{"s":3,"d":240,"v":0.5},{"s":3,"d":258,"v":0.45},{"s":3,"d":268,"v":0.3},{"s":3,"d":298,"v":0.25},{"s":3,"d":313,"v":0.2},{"s":3,"d":328,"v":0.02},{"s":3,"d":360,"v":0.02},
{"s":4,"d":0,"v":0.02},{"s":4,"d":30,"v":0.12},{"s":4,"d":57,"v":0.42},{"s":4,"d":88,"v":0.58},{"s":4,"d":103,"v":0.76},{"s":4,"d":118,"v":0.25},{"s":4,"d":132,"v":0.28},{"s":4,"d":145,"v":0.2},{"s":4,"d":160,"v":0.28},{"s":4,"d":175,"v":0.38},{"s":4,"d":190,"v":0.5},{"s":4,"d":205,"v":0.9},{"s":4,"d":240,"v":0.87},{"s":4,"d":258,"v":0.88},{"s":4,"d":268,"v":0.6},{"s":4,"d":298,"v":0.45},{"s":4,"d":313,"v":0.42},{"s":4,"d":328,"v":0.03},{"s":4,"d":360,"v":0.03},
{"s":5,"d":0,"v":0.01},{"s":5,"d":30,"v":0.22},{"s":5,"d":57,"v":0.2},{"s":5,"d":88,"v":0.5},{"s":5,"d":103,"v":0.55},{"s":5,"d":118,"v":0.1},{"s":5,"d":132,"v":0.08},{"s":5,"d":145,"v":0.12},{"s":5,"d":160,"v":0.15},{"s":5,"d":175,"v":0.2},{"s":5,"d":190,"v":0.45},{"s":5,"d":205,"v":0.8},{"s":5,"d":240,"v":0.7},{"s":5,"d":258,"v":0.68},{"s":5,"d":268,"v":0.7},{"s":5,"d":298,"v":0.43},{"s":5,"d":313,"v":0.38},{"s":5,"d":328,"v":0.02},{"s":5,"d":360,"v":0.02},
{"s":2,"d":0,"v":0.02},{"s":2,"d":30,"v":0.08},{"s":2,"d":57,"v":0.23},{"s":2,"d":88,"v":0.3},{"s":2,"d":103,"v":0.58},{"s":2,"d":118,"v":0.18},{"s":2,"d":132,"v":0.15},{"s":2,"d":145,"v":0.1},{"s":2,"d":160,"v":0.12},{"s":2,"d":175,"v":0.15},{"s":2,"d":190,"v":0.35},{"s":2,"d":205,"v":0.75},{"s":2,"d":240,"v":0.65},{"s":2,"d":258,"v":0.6},{"s":2,"d":268,"v":0.55},{"s":2,"d":298,"v":0.52},{"s":2,"d":313,"v":0.45},{"s":2,"d":328,"v":0.03},{"s":2,"d":360,"v":0.03},
{"s":6,"d":0,"v":0.01},{"s":6,"d":30,"v":0.04},{"s":6,"d":57,"v":0.16},{"s":6,"d":88,"v":0.3},{"s":6,"d":103,"v":0.4},{"s":6,"d":118,"v":0.05},{"s":6,"d":132,"v":0.06},{"s":6,"d":145,"v":0.08},{"s":6,"d":160,"v":0.1},{"s":6,"d":175,"v":0.2},{"s":6,"d":190,"v":0.25},{"s":6,"d":205,"v":0.55},{"s":6,"d":240,"v":0.6},{"s":6,"d":258,"v":0.55},{"s":6,"d":268,"v":0.28},{"s":6,"d":298,"v":0.25},{"s":6,"d":313,"v":0.15},{"s":6,"d":328,"v":0.01},{"s":6,"d":360,"v":0.01},
{"s":7,"d":0,"v":0.02},{"s":7,"d":30,"v":0.06},{"s":7,"d":57,"v":0.2},{"s":7,"d":88,"v":0.25},{"s":7,"d":103,"v":0.32},{"s":7,"d":118,"v":0.12},{"s":7,"d":132,"v":0.1},{"s":7,"d":145,"v":0.06},{"s":7,"d":160,"v":0.09},{"s":7,"d":175,"v":0.12},{"s":7,"d":190,"v":0.2},{"s":7,"d":205,"v":0.85},{"s":7,"d":240,"v":0.75},{"s":7,"d":258,"v":0.7},{"s":7,"d":268,"v":0.6},{"s":7,"d":298,"v":0.35},{"s":7,"d":313,"v":0.32},{"s":7,"d":328,"v":0.02},{"s":7,"d":360,"v":0.02},
{"s":8,"d":0,"v":0.02},{"s":8,"d":30,"v":0.1},{"s":8,"d":57,"v":0.33},{"s":8,"d":88,"v":0.45},{"s":8,"d":103,"v":0.65},{"s":8,"d":118,"v":0.08},{"s":8,"d":132,"v":0.1},{"s":8,"d":145,"v":0.18},{"s":8,"d":160,"v":0.2},{"s":8,"d":175,"v":0.25},{"s":8,"d":190,"v":0.3},{"s":8,"d":205,"v":0.62},{"s":8,"d":240,"v":0.55},{"s":8,"d":258,"v":0.58},{"s":8,"d":268,"v":0.8},{"s":8,"d":298,"v":0.51},{"s":8,"d":313,"v":0.47},{"s":8,"d":328,"v":0.04},{"s":8,"d":360,"v":0.04},
{"s":9,"d":0,"v":0.01},{"s":9,"d":30,"v":0.02},{"s":9,"d":57,"v":0.08},{"s":9,"d":88,"v":0.15},{"s":9,"d":103,"v":0.45},{"s":9,"d":118,"v":0.04},{"s":9,"d":132,"v":0.05},{"s":9,"d":145,"v":0.07},{"s":9,"d":160,"v":0.08},{"s":9,"d":175,"v":0.14},{"s":9,"d":190,"v":0.28},{"s":9,"d":205,"v":0.45},{"s":9,"d":240,"v":0.54},{"s":9,"d":258,"v":0.5},{"s":9,"d":268,"v":0.71},{"s":9,"d":298,"v":0.42},{"s":9,"d":313,"v":0.36},{"s":9,"d":328,"v":0.01},{"s":9,"d":360,"v":0.01},
{"s":10,"d":0,"v":0},{"s":10,"d":30,"v":0.01},{"s":10,"d":57,"v":0.05},{"s":10,"d":88,"v":0.1},{"s":10,"d":103,"v":0.2},{"s":10,"d":118,"v":0.02},{"s":10,"d":132,"v":0.03},{"s":10,"d":145,"v":0.04},{"s":10,"d":160,"v":0.05},{"s":10,"d":175,"v":0.08},{"s":10,"d":190,"v":0.22},{"s":10,"d":205,"v":0.22},{"s":10,"d":240,"v":0.2},{"s":10,"d":258,"v":0.18},{"s":10,"d":268,"v":0.16},{"s":10,"d":298,"v":0.12},{"s":10,"d":313,"v":0.1},{"s":10,"d":328,"v":0.01},{"s":10,"d":360,"v":0.01},
{"s":11,"d":0,"v":0.01},{"s":11,"d":30,"v":0.03},{"s":11,"d":57,"v":0.13},{"s":11,"d":88,"v":0.2},{"s":11,"d":103,"v":0.3},{"s":11,"d":118,"v":0.06},{"s":11,"d":132,"v":0.07},{"s":11,"d":145,"v":0.09},{"s":11,"d":160,"v":0.1},{"s":11,"d":175,"v":0.13},{"s":11,"d":190,"v":0.18},{"s":11,"d":205,"v":0.35},{"s":11,"d":240,"v":0.38},{"s":11,"d":258,"v":0.32},{"s":11,"d":268,"v":0.25},{"s":11,"d":298,"v":0.14},{"s":11,"d":313,"v":0.15},{"s":11,"d":328,"v":0.02},{"s":11,"d":360,"v":0.02},
{"s":14,"d":0,"v":0.03},{"s":14,"d":30,"v":0.02},{"s":14,"d":57,"v":0.22},{"s":14,"d":88,"v":0.32},{"s":14,"d":103,"v":0.38},{"s":14,"d":118,"v":0.13},{"s":14,"d":132,"v":0.14},{"s":14,"d":145,"v":0.13},{"s":14,"d":160,"v":0.16},{"s":14,"d":175,"v":0.24},{"s":14,"d":190,"v":0.26},{"s":14,"d":205,"v":0.25},{"s":14,"d":240,"v":0.3},{"s":14,"d":258,"v":0.3},{"s":14,"d":268,"v":0.28},{"s":14,"d":298,"v":0.22},{"s":14,"d":313,"v":0.17},{"s":14,"d":328,"v":0.02},{"s":14,"d":360,"v":0.02},
{"s":13,"d":0,"v":0.01},{"s":13,"d":30,"v":0.01},{"s":13,"d":57,"v":0.03},{"s":13,"d":88,"v":0.05},{"s":13,"d":103,"v":0.1},{"s":13,"d":118,"v":0.01},{"s":13,"d":132,"v":0.02},{"s":13,"d":145,"v":0.03},{"s":13,"d":160,"v":0.04},{"s":13,"d":175,"v":0.05},{"s":13,"d":190,"v":0.1},{"s":13,"d":205,"v":0.18},{"s":13,"d":240,"v":0.1},{"s":13,"d":258,"v":0.08},{"s":13,"d":268,"v":0.07},{"s":13,"d":298,"v":0.05},{"s":13,"d":313,"v":0.04},{"s":13,"d":328,"v":0.01},{"s":13,"d":360,"v":0.01},
{"s":15,"d":0,"v":0.02},{"s":15,"d":30,"v":0.09},{"s":15,"d":57,"v":0.38},{"s":15,"d":88,"v":0.52},{"s":15,"d":103,"v":0.62},{"s":15,"d":118,"v":0.19},{"s":15,"d":132,"v":0.2},{"s":15,"d":145,"v":0.17},{"s":15,"d":160,"v":0.19},{"s":15,"d":175,"v":0.27},{"s":15,"d":190,"v":0.34},{"s":15,"d":205,"v":0.72},{"s":15,"d":240,"v":0.78},{"s":15,"d":258,"v":0.74},{"s":15,"d":268,"v":0.62},{"s":15,"d":298,"v":0.48},{"s":15,"d":313,"v":0.4},{"s":15,"d":328,"v":0.03},{"s":15,"d":360,"v":0.03},
{"s":16,"d":0,"v":0.01},{"s":16,"d":30,"v":0.05},{"s":16,"d":57,"v":0.27},{"s":16,"d":88,"v":0.4},{"s":16,"d":103,"v":0.5},{"s":16,"d":118,"v":0.14},{"s":16,"d":132,"v":0.12},{"s":16,"d":145,"v":0.11},{"s":16,"d":160,"v":0.13},{"s":16,"d":175,"v":0.18},{"s":16,"d":190,"v":0.3},{"s":16,"d":205,"v":0.6},{"s":16,"d":240,"v":0.52},{"s":16,"d":258,"v":0.49},{"s":16,"d":268,"v":0.45},{"s":16,"d":298,"v":0.3},{"s":16,"d":313,"v":0.28},{"s":16,"d":328,"v":0.02},{"s":16,"d":360,"v":0.02},
{"s":17,"d":0,"v":0.01},{"s":17,"d":30,"v":0.03},{"s":17,"d":57,"v":0.18},{"s":17,"d":88,"v":0.23},{"s":17,"d":103,"v":0.36},{"s":17,"d":118,"v":0.09},{"s":17,"d":132,"v":0.08},{"s":17,"d":145,"v":0.1},{"s":17,"d":160,"v":0.11},{"s":17,"d":175,"v":0.17},{"s":17,"d":190,"v":0.24},{"s":17,"d":205,"v":0.5},{"s":17,"d":240,"v":0.44},{"s":17,"d":258,"v":0.4},{"s":17,"d":268,"v":0.36},{"s":17,"d":298,"v":0.27},{"s":17,"d":313,"v":0.24},{"s":17,"d":328,"v":0.02},{"s":17,"d":360,"v":0.02},
{"s":18,"d":0,"v":0.01},{"s":18,"d":30,"v":0.02},{"s":18,"d":57,"v":0.1},{"s":18,"d":88,"v":0.17},{"s":18,"d":103,"v":0.25},{"s":18,"d":118,"v":0.07},{"s":18,"d":132,"v":0.06},{"s":18,"d":145,"v":0.05},{"s":18,"d":160,"v":0.07},{"s":18,"d":175,"v":0.1},{"s":18,"d":190,"v":0.16},{"s":18,"d":205,"v":0.4},{"s":18,"d":240,"v":0.35},{"s":18,"d":258,"v":0.3},{"s":18,"d":268,"v":0.22},{"s":18,"d":298,"v":0.18},{"s":18,"d":313,"v":0.12},{"s":18,"d":328,"v":0.01},{"s":18,"d":360,"v":0.01},
{"s":19,"d":0,"v":0.01},{"s":19,"d":30,"v":0.07},{"s":19,"d":57,"v":0.3},{"s":19,"d":88,"v":0.36},{"s":19,"d":103,"v":0.55},{"s":19,"d":118,"v":0.17},{"s":19,"d":132,"v":0.16},{"s":19,"d":145,"v":0.14},{"s":19,"d":160,"v":0.17},{"s":19,"d":175,"v":0.22},{"s":19,"d":190,"v":0.32},{"s":19,"d":205,"v":0.7},{"s":19,"d":240,"v":0.66},{"s":19,"d":258,"v":0.63},{"s":19,"d":268,"v":0.52},{"s":19,"d":298,"v":0.38},{"s":19,"d":313,"v":0.33},{"s":19,"d":328,"v":0.02},{"s":19,"d":360,"v":0.02},
{"s":20,"d":0,"v":0.02},{"s":20,"d":30,"v":0.04},{"s":20,"d":57,"v":0.06},{"s":20,"d":88,"v":0.08},{"s":20,"d":103,"v":0.12},{"s":20,"d":118,"v":0.03},{"s":20,"d":132,"v":0.04},{"s":20,"d":145,"v":0.05},{"s":20,"d":160,"v":0.06},{"s":20,"d":175,"v":0.09},{"s":20,"d":190,"v":0.12},{"s":20,"d":205,"v":0.28},{"s":20,"d":240,"v":0.24},{"s":20,"d":258,"v":0.22},{"s":20,"d":268,"v":0.2},{"s":20,"d":298,"v":0.1},{"s":20,"d":313,"v":0.08},{"s":20,"d":328,"v":0.01},{"s":20,"d":360,"v":0.01}
],
"e": [
{"s":9,"d":0,"v":0},{"s":9,"d":30,"v":0.02},{"s":9,"d":57,"v":0.1},{"s":9,"d":88,"v":0.87},{"s":9,"d":97,"v":0.84},{"s":9,"d":110,"v":0.72},{"s":9,"d":118,"v":0.5},{"s":9,"d":130,"v":0.4},{"s":9,"d":140,"v":0.32},{"s":9,"d":145,"v":0.2},{"s":9,"d":160,"v":0.1},{"s":9,"d":175,"v":0.08},{"s":9,"d":190,"v":0.07},{"s":9,"d":205,"v":0.09},{"s":9,"d":240,"v":0.04},{"s":9,"d":258,"v":0.05},{"s":9,"d":268,"v":0.01},{"s":9,"d":298,"v":0.01},{"s":9,"d":328,"v":0},{"s":9,"d":360,"v":0},
{"s":2,"d":0,"v":0},{"s":2,"d":30,"v":0.01},{"s":2,"d":57,"v":0.16},{"s":2,"d":88,"v":0.65},{"s":2,"d":97,"v":0.63},{"s":2,"d":110,"v":0.62},{"s":2,"d":118,"v":0.6},{"s":2,"d":130,"v":0.5},{"s":2,"d":140,"v":0.41},{"s":2,"d":145,"v":0.24},{"s":2,"d":160,"v":0.12},{"s":2,"d":175,"v":0.13},{"s":2,"d":190,"v":0.11},{"s":2,"d":205,"v":0.07},{"s":2,"d":240,"v":0.05},{"s":2,"d":258,"v":0.06},{"s":2,"d":268,"v":0.02},{"s":2,"d":298,"v":0.01},{"s":2,"d":328,"v":0},{"s":2,"d":360,"v":0},
{"s":6,"d":0,"v":0},{"s":6,"d":30,"v":0.02},{"s":6,"d":57,"v":0.28},{"s":6,"d":88,"v":0.4},{"s":6,"d":97,"v":0.42},{"s":6,"d":110,"v":0.1},{"s":6,"d":118,"v":0.01},{"s":6,"d":130,"v":0.005},{"s":6,"d":140,"v":0.005},{"s":6,"d":145,"v":0.003},{"s":6,"d":160,"v":0.002},{"s":6,"d":175,"v":0.002},{"s":6,"d":190,"v":0.002},{"s":6,"d":205,"v":0.2},{"s":6,"d":240,"v":0.002},{"s":6,"d":258,"v":0.002},{"s":6,"d":268,"v":0},{"s":6,"d":298,"v":0},{"s":6,"d":328,"v":0},{"s":6,"d":360,"v":0},
{"s":4,"d":0,"v":0},{"s":4,"d":30,"v":0.02},{"s":4,"d":57,"v":0.21},{"s":4,"d":88,"v":0.55},{"s":4,"d":97,"v":0.8},{"s":4,"d":110,"v":0.7},{"s":4,"d":118,"v":0.29},{"s":4,"d":130,"v":0.25},{"s":4,"d":140,"v":0.2},{"s":4,"d":145,"v":0.08},{"s":4,"d":160,"v":0.06},{"s":4,"d":175,"v":0.09},{"s":4,"d":190,"v":0.1},{"s":4,"d":205,"v":0.25},{"s":4,"d":240,"v":0.06},{"s":4,"d":258,"v":0.1},{"s":4,"d":268,"v":0.01},{"s":4,"d":298,"v":0.01},{"s":4,"d":328,"v":0},{"s":4,"d":360,"v":0},
{"s":1,"d":0,"v":0},{"s":1,"d":30,"v":0.01},{"s":1,"d":57,"v":0.14},{"s":1,"d":88,"v":0.69},{"s":1,"d":97,"v":0.78},{"s":1,"d":110,"v":0.3},{"s":1,"d":118,"v":0.25},{"s":1,"d":130,"v":0.22},{"s":1,"d":140,"v":0.21},{"s":1,"d":145,"v":0.1},{"s":1,"d":160,"v":0.07},{"s":1,"d":175,"v":0.12},{"s":1,"d":190,"v":0.11},{"s":1,"d":205,"v":0.12},{"s":1,"d":240,"v":0.02},{"s":1,"d":258,"v":0.03},{"s":1,"d":268,"v":0.01},{"s":1,"d":298,"v":0.005},{"s":1,"d":328,"v":0},{"s":1,"d":360,"v":0},
{"s":3,"d":0,"v":0},{"s":3,"d":30,"v":0.01},{"s":3,"d":57,"v":0.2},{"s":3,"d":88,"v":0.42},{"s":3,"d":97,"v":0.4},{"s":3,"d":110,"v":0.39},{"s":3,"d":118,"v":0.03},{"s":3,"d":130,"v":0.02},{"s":3,"d":140,"v":0.02},{"s":3,"d":145,"v":0.01},{"s":3,"d":160,"v":0.01},{"s":3,"d":175,"v":0.01},{"s":3,"d":190,"v":0.02},{"s":3,"d":205,"v":0.03},{"s":3,"d":240,"v":0.01},{"s":3,"d":258,"v":0.02},{"s":3,"d":268,"v":0.005},{"s":3,"d":298,"v":0},{"s":3,"d":328,"v":0},{"s":3,"d":360,"v":0},
{"s":5,"d":0,"v":0},{"s":5,"d":30,"v":0.02},{"s":5,"d":57,"v":0.09},{"s":5,"d":88,"v":0.6},{"s":5,"d":97,"v":0.58},{"s":5,"d":110,"v":0.48},{"s":5,"d":118,"v":0.18},{"s":5,"d":130,"v":0.15},{"s":5,"d":140,"v":0.14},{"s":5,"d":145,"v":0.04},{"s":5,"d":160,"v":0.05},{"s":5,"d":175,"v":0.04},{"s":5,"d":190,"v":0.04},{"s":5,"d":205,"v":0.07},{"s":5,"d":240,"v":0.04},{"s":5,"d":258,"v":0.05},{"s":5,"d":268,"v":0.01},{"s":5,"d":298,"v":0.01},{"s":5,"d":328,"v":0},{"s":5,"d":360,"v":0},
{"s":8,"d":0,"v":0},{"s":8,"d":30,"v":0.01},{"s":8,"d":57,"v":0.12},{"s":8,"d":88,"v":0.63},{"s":8,"d":97,"v":0.62},{"s":8,"d":110,"v":0.53},{"s":8,"d":118,"v":0.2},{"s":8,"d":130,"v":0.22},{"s":8,"d":140,"v":0.18},{"s":8,"d":145,"v":0.05},{"s":8,"d":160,"v":0.04},{"s":8,"d":175,"v":0.05},{"s":8,"d":190,"v":0.03},{"s":8,"d":205,"v":0.05},{"s":8,"d":240,"v":0.02},{"s":8,"d":258,"v":0.03},{"s":8,"d":268,"v":0.01},{"s":8,"d":298,"v":0.01},{"s":8,"d":328,"v":0},{"s":8,"d":360,"v":0},
{"s":12,"d":0,"v":0},{"s":12,"d":30,"v":0.01},{"s":12,"d":57,"v":0.17},{"s":12,"d":88,"v":0.83},{"s":12,"d":97,"v":0.78},{"s":12,"d":110,"v":0.55},{"s":12,"d":118,"v":0.16},{"s":12,"d":130,"v":0.12},{"s":12,"d":140,"v":0.1},{"s":12,"d":145,"v":0.03},{"s":12,"d":160,"v":0.03},{"s":12,"d":175,"v":0.04},{"s":12,"d":190,"v":0.03},{"s":12,"d":205,"v":0.2},{"s":12,"d":240,"v":0.03},{"s":12,"d":258,"v":0.04},{"s":12,"d":268,"v":0.01},{"s":12,"d":298,"v":0.005},{"s":12,"d":328,"v":0},{"s":12,"d":360,"v":0},
{"s":10,"d":0,"v":0},{"s":10,"d":30,"v":0},{"s":10,"d":57,"v":0.005},{"s":10,"d":88,"v":0.5},{"s":10,"d":97,"v":0.45},{"s":10,"d":110,"v":0.4},{"s":10,"d":118,"v":0.05},{"s":10,"d":130,"v":0.03},{"s":10,"d":140,"v":0.02},{"s":10,"d":145,"v":0.02},{"s":10,"d":160,"v":0.01},{"s":10,"d":175,"v":0.02},{"s":10,"d":190,"v":0.01},{"s":10,"d":205,"v":0.02},{"s":10,"d":240,"v":0.01},{"s":10,"d":258,"v":0.01},{"s":10,"d":268,"v":0},{"s":10,"d":298,"v":0},{"s":10,"d":328,"v":0},{"s":10,"d":360,"v":0},
{"s":7,"d":0,"v":0},{"s":7,"d":30,"v":0.01},{"s":7,"d":57,"v":0.1},{"s":7,"d":88,"v":0.52},{"s":7,"d":97,"v":0.5},{"s":7,"d":110,"v":0.45},{"s":7,"d":118,"v":0.12},{"s":7,"d":130,"v":0.1},{"s":7,"d":140,"v":0.09},{"s":7,"d":145,"v":0.04},{"s":7,"d":160,"v":0.03},{"s":7,"d":175,"v":0.05},{"s":7,"d":190,"v":0.05},{"s":7,"d":205,"v":0.1},{"s":7,"d":240,"v":0.04},{"s":7,"d":258,"v":0.05},{"s":7,"d":268,"v":0.01},{"s":7,"d":298,"v":0.01},{"s":7,"d":328,"v":0},{"s":7,"d":360,"v":0},
{"s":13,"d":0,"v":0},{"s":13,"d":30,"v":0.01},{"s":13,"d":57,"v":0.15},{"s":13,"d":88,"v":0.67},{"s":13,"d":97,"v":0.66},{"s":13,"d":110,"v":0.63},{"s":13,"d":118,"v":0.28},{"s":13,"d":130,"v":0.3},{"s":13,"d":140,"v":0.25},{"s":13,"d":145,"v":0.06},{"s":13,"d":160,"v":0.05},{"s":13,"d":175,"v":0.07},{"s":13,"d":190,"v":0.06},{"s":13,"d":205,"v":0.08},{"s":13,"d":240,"v":0.05},{"s":13,"d":258,"v":0.07},{"s":13,"d":268,"v":0.01},{"s":13,"d":298,"v":0.01},{"s":13,"d":328,"v":0},{"s":13,"d":360,"v":0},
{"s":15,"d":0,"v":0},{"s":15,"d":30,"v":0.01},{"s":15,"d":57,"v":0.13},{"s":15,"d":88,"v":0.77},{"s":15,"d":97,"v":0.76},{"s":15,"d":110,"v":0.6},{"s":15,"d":118,"v":0.22},{"s":15,"d":130,"v":0.2},{"s":15,"d":140,"v":0.17},{"s":15,"d":145,"v":0.05},{"s":15,"d":160,"v":0.04},{"s":15,"d":175,"v":0.06},{"s":15,"d":190,"v":0.05},{"s":15,"d":205,"v":0.12},{"s":15,"d":240,"v":0.03},{"s":15,"d":258,"v":0.05},{"s":15,"d":268,"v":0.01},{"s":15,"d":298,"v":0.01},{"s":15,"d":328,"v":0},{"s":15,"d":360,"v":0},
{"s":16,"d":0,"v":0},{"s":16,"d":30,"v":0.01},{"s":16,"d":57,"v":0.11},{"s":16,"d":88,"v":0.58},{"s":16,"d":97,"v":0.57},{"s":16,"d":110,"v":0.52},{"s":16,"d":118,"v":0.15},{"s":16,"d":130,"v":0.14},{"s":16,"d":140,"v":0.12},{"s":16,"d":145,"v":0.03},{"s":16,"d":160,"v":0.02},{"s":16,"d":175,"v":0.03},{"s":16,"d":190,"v":0.03},{"s":16,"d":205,"v":0.06},{"s":16,"d":240,"v":0.02},{"s":16,"d":258,"v":0.04},{"s":16,"d":268,"v":0.01},{"s":16,"d":298,"v":0},{"s":16,"d":328,"v":0},{"s":16,"d":360,"v":0},
{"s":17,"d":0,"v":0},{"s":17,"d":30,"v":0.02},{"s":17,"d":57,"v":0.19},{"s":17,"d":88,"v":0.46},{"s":17,"d":97,"v":0.44},{"s":17,"d":110,"v":0.43},{"s":17,"d":118,"v":0.08},{"s":17,"d":130,"v":0.06},{"s":17,"d":140,"v":0.05},{"s":17,"d":145,"v":0.02},{"s":17,"d":160,"v":0.02},{"s":17,"d":175,"v":0.02},{"s":17,"d":190,"v":0.02},{"s":17,"d":205,"v":0.04},{"s":17,"d":240,"v":0.02},{"s":17,"d":258,"v":0.03},{"s":17,"d":268,"v":0.005},{"s":17,"d":298,"v":0},{"s":17,"d":328,"v":0},{"s":17,"d":360,"v":0},
{"s":18,"d":0,"v":0},{"s":18,"d":30,"v":0.01},{"s":18,"d":57,"v":0.08},{"s":18,"d":88,"v":0.7},{"s":18,"d":97,"v":0.68},{"s":18,"d":110,"v":0.6},{"s":18,"d":118,"v":0.26},{"s":18,"d":130,"v":0.24},{"s":18,"d":140,"v":0.16},{"s":18,"d":145,"v":0.07},{"s":18,"d":160,"v":0.06},{"s":18,"d":175,"v":0.08},{"s":18,"d":190,"v":0.07},{"s":18,"d":205,"v":0.1},{"s":18,"d":240,"v":0.05},{"s":18,"d":258,"v":0.06},{"s":18,"d":268,"v":0.01},{"s":18,"d":298,"v":0.01},{"s":18,"d":328,"v":0},{"s":18,"d":360,"v":0}
]
},
"spacing": 7,
"vconcat": [
{"spacing": 61, "bounds": "flush", "hconcat": [
 {"width": 282, "height": 244, "title": "a. Species positively correlated to PC1", "layer": [
  {"data": {"values": [{"d":100},{"d":200},{"d":300}]}, "mark": {"type":"rule","color":"#555","strokeDash":[2,3],"strokeWidth":0.9}, "encoding": {"x": {"field":"d","type":"quantitative","scale":{"domain":[0,360],"nice":false},"axis":{"title":"Days","values":[0,50,100,150,200,250,300,350]}}}},
  {"data": {"values": [{"v":0.1},{"v":0.2},{"v":0.3}]}, "mark": {"type":"rule","color":"#555","strokeDash":[2,3],"strokeWidth":0.9}, "encoding": {"y": {"field":"v","type":"quantitative","scale":{"domain":[0,1],"nice":false},"axis":{"title":"Abundance","values":[0,0.1,0.2,0.3,0.4,0.5,0.6,0.7,0.8,0.9,1],"format":"~g"}}}},
  {"data": {"name":"a"}, "mark": {"type":"line","interpolate":"step-after","clip":true}, "encoding": {"x":{"field":"d","type":"quantitative","scale":{"domain":[0,360],"nice":false},"axis":{"title":"Days","values":[0,50,100,150,200,250,300,350]}},"y":{"field":"v","type":"quantitative","scale":{"domain":[0,1],"nice":false},"axis":{"title":"Abundance","values":[0,0.1,0.2,0.3,0.4,0.5,0.6,0.7,0.8,0.9,1],"format":"~g"}},"color":{"field":"s","type":"nominal","legend":null,"scale":{"domain":[1,2,3,4,5,6,7,8,9,10,11,12,13,14,15,16,17,18,19,20],"range":["#e3261f","#5cb82e","#2f4fe0","#f39a1e","#4fd6e0","#8a3fd1","#a6d96a","#b22222","#5aa5ff","#c0399e","#9c9c2a","#e0b84a","#2aa198","#e0453a","#ff5a1f","#3cb371","#6a5acd","#d02090","#1ea7ff","#cc7722"]}}}}
 ]},
 {"spacing": 53, "bounds": "flush", "hconcat": [
  {"width": 285, "height": 244, "title": "b. Species negatively correlated to PC1", "layer": [
   {"data": {"values": [{"d":50},{"d":150},{"d":250},{"d":350}]}, "mark": {"type":"rule","color":"#555","strokeDash":[2,3],"strokeWidth":0.9}, "encoding": {"x": {"field":"d","type":"quantitative","scale":{"domain":[0,360],"nice":false},"axis":{"title":"Days","values":[0,50,100,150,200,250,300,350]}}}},
   {"data": {"values": [{"v":0.9}]}, "mark": {"type":"rule","color":"#555","strokeDash":[2,3],"strokeWidth":0.9}, "encoding": {"y": {"field":"v","type":"quantitative","scale":{"domain":[0,1],"nice":false},"axis":{"title":"Abundance","values":[0,0.1,0.2,0.3,0.4,0.5,0.6,0.7,0.8,0.9,1],"format":"~g"}}}},
   {"data": {"name":"b"}, "mark": {"type":"line","interpolate":"step-after","clip":true}, "encoding": {"x":{"field":"d","type":"quantitative","scale":{"domain":[0,360],"nice":false},"axis":{"title":"Days","values":[0,50,100,150,200,250,300,350]}},"y":{"field":"v","type":"quantitative","scale":{"domain":[0,1],"nice":false},"axis":{"title":"Abundance","values":[0,0.1,0.2,0.3,0.4,0.5,0.6,0.7,0.8,0.9,1],"format":"~g"}},"color":{"field":"s","type":"nominal","legend":null,"scale":{"domain":[1,2,3,4,5,6,7,8,9,10,11,12,13,14,15,16,17,18,19,20],"range":["#e3261f","#5cb82e","#2f4fe0","#f39a1e","#4fd6e0","#8a3fd1","#a6d96a","#b22222","#5aa5ff","#c0399e","#9c9c2a","#e0b84a","#2aa198","#e0453a","#ff5a1f","#3cb371","#6a5acd","#d02090","#1ea7ff","#cc7722"]}}}}
  ]},
  {"width": 287, "height": 244, "title": {"text": "c. Species positively correlated to PC2", "fontSize": 15.5}, "layer": [
   {"data": {"values": [{"d":100},{"d":200},{"d":300}]}, "mark": {"type":"rule","color":"#555","strokeDash":[2,3],"strokeWidth":0.9}, "encoding": {"x": {"field":"d","type":"quantitative","scale":{"domain":[0,360],"nice":false},"axis":{"title":"Days","values":[0,50,100,150,200,250,300,350]}}}},
   {"data": {"values": [{"v":0.6},{"v":0.7},{"v":0.8},{"v":0.9}]}, "mark": {"type":"rule","color":"#555","strokeDash":[2,3],"strokeWidth":0.9}, "encoding": {"y": {"field":"v","type":"quantitative","scale":{"domain":[0,1],"nice":false},"axis":{"title":"Abundance","values":[0,0.1,0.2,0.3,0.4,0.5,0.6,0.7,0.8,0.9,1],"format":"~g"}}}},
   {"data": {"name":"c"}, "mark": {"type":"line","interpolate":"step-after","clip":true}, "encoding": {"x":{"field":"d","type":"quantitative","scale":{"domain":[0,360],"nice":false},"axis":{"title":"Days","values":[0,50,100,150,200,250,300,350]}},"y":{"field":"v","type":"quantitative","scale":{"domain":[0,1],"nice":false},"axis":{"title":"Abundance","values":[0,0.1,0.2,0.3,0.4,0.5,0.6,0.7,0.8,0.9,1],"format":"~g"}},"color":{"field":"s","type":"nominal","legend":null,"scale":{"domain":[1,2,3,4,5,6,7,8,9,10,11,12,13,14,15,16,17,18,19,20],"range":["#e3261f","#5cb82e","#2f4fe0","#f39a1e","#4fd6e0","#8a3fd1","#a6d96a","#b22222","#5aa5ff","#c0399e","#9c9c2a","#e0b84a","#2aa198","#e0453a","#ff5a1f","#3cb371","#6a5acd","#d02090","#1ea7ff","#cc7722"]}}}}
  ]}
 ]}
]},
{"spacing": 53, "bounds": "flush", "hconcat": [
 {"width": 290, "height": 250, "title": "d. Species negatively correlated to PC3", "layer": [
  {"data": {"values": [{"d":100},{"d":200},{"d":300}]}, "mark": {"type":"rule","color":"#555","strokeDash":[2,3],"strokeWidth":0.9}, "encoding": {"x": {"field":"d","type":"quantitative","scale":{"domain":[0,360],"nice":false},"axis":{"title":"Days","values":[0,50,100,150,200,250,300,350]}}}},
  {"data": {"values": [{"v":0.1},{"v":0.2},{"v":0.3},{"v":0.4},{"v":0.5},{"v":0.6},{"v":0.7}]}, "mark": {"type":"rule","color":"#555","strokeDash":[2,3],"strokeWidth":0.9}, "encoding": {"y": {"field":"v","type":"quantitative","scale":{"domain":[0,1],"nice":false},"axis":{"title":"Abundance","values":[0,0.1,0.2,0.3,0.4,0.5,0.6,0.7,0.8,0.9,1],"format":"~g"}}}},
  {"data": {"name":"d"}, "mark": {"type":"line","interpolate":"step-after","clip":true}, "encoding": {"x":{"field":"d","type":"quantitative","scale":{"domain":[0,360],"nice":false},"axis":{"title":"Days","values":[0,50,100,150,200,250,300,350]}},"y":{"field":"v","type":"quantitative","scale":{"domain":[0,1],"nice":false},"axis":{"title":"Abundance","values":[0,0.1,0.2,0.3,0.4,0.5,0.6,0.7,0.8,0.9,1],"format":"~g"}},"color":{"field":"s","type":"nominal","legend":null,"scale":{"domain":[1,2,3,4,5,6,7,8,9,10,11,12,13,14,15,16,17,18,19,20],"range":["#e3261f","#5cb82e","#2f4fe0","#f39a1e","#4fd6e0","#8a3fd1","#a6d96a","#b22222","#5aa5ff","#c0399e","#9c9c2a","#e0b84a","#2aa198","#e0453a","#ff5a1f","#3cb371","#6a5acd","#d02090","#1ea7ff","#cc7722"]}}}}
 ]},
 {"width": 289, "height": 249, "title": "e. Species positively correlated to PC4", "layer": [
  {"data": {"values": [{"d":50},{"d":150},{"d":250},{"d":350}]}, "mark": {"type":"rule","color":"#555","strokeDash":[2,3],"strokeWidth":0.9}, "encoding": {"x": {"field":"d","type":"quantitative","scale":{"domain":[0,360],"nice":false},"axis":{"title":"Days","values":[0,50,100,150,200,250,300,350]}}}},
  {"data": {"values": [{"v":0.1},{"v":0.2},{"v":0.3},{"v":0.4}]}, "mark": {"type":"rule","color":"#555","strokeDash":[2,3],"strokeWidth":0.9}, "encoding": {"y": {"field":"v","type":"quantitative","scale":{"domain":[0,0.9],"nice":false},"axis":{"title":"Abundance","values":[0,0.1,0.2,0.3,0.4,0.5,0.6,0.7,0.8,0.9],"format":"~g"}}}},
  {"data": {"name":"e"}, "mark": {"type":"line","interpolate":"step-after","clip":true}, "encoding": {"x":{"field":"d","type":"quantitative","scale":{"domain":[0,360],"nice":false},"axis":{"title":"Days","values":[0,50,100,150,200,250,300,350]}},"y":{"field":"v","type":"quantitative","scale":{"domain":[0,0.9],"nice":false},"axis":{"title":"Abundance","values":[0,0.1,0.2,0.3,0.4,0.5,0.6,0.7,0.8,0.9],"format":"~g"}},"color":{"field":"s","type":"nominal","legend":null,"scale":{"domain":[1,2,3,4,5,6,7,8,9,10,11,12,13,14,15,16,17,18,19,20],"range":["#e3261f","#5cb82e","#2f4fe0","#f39a1e","#4fd6e0","#8a3fd1","#a6d96a","#b22222","#5aa5ff","#c0399e","#9c9c2a","#e0b84a","#2aa198","#e0453a","#ff5a1f","#3cb371","#6a5acd","#d02090","#1ea7ff","#cc7722"]}}}}
 ]}
]}
]
}
